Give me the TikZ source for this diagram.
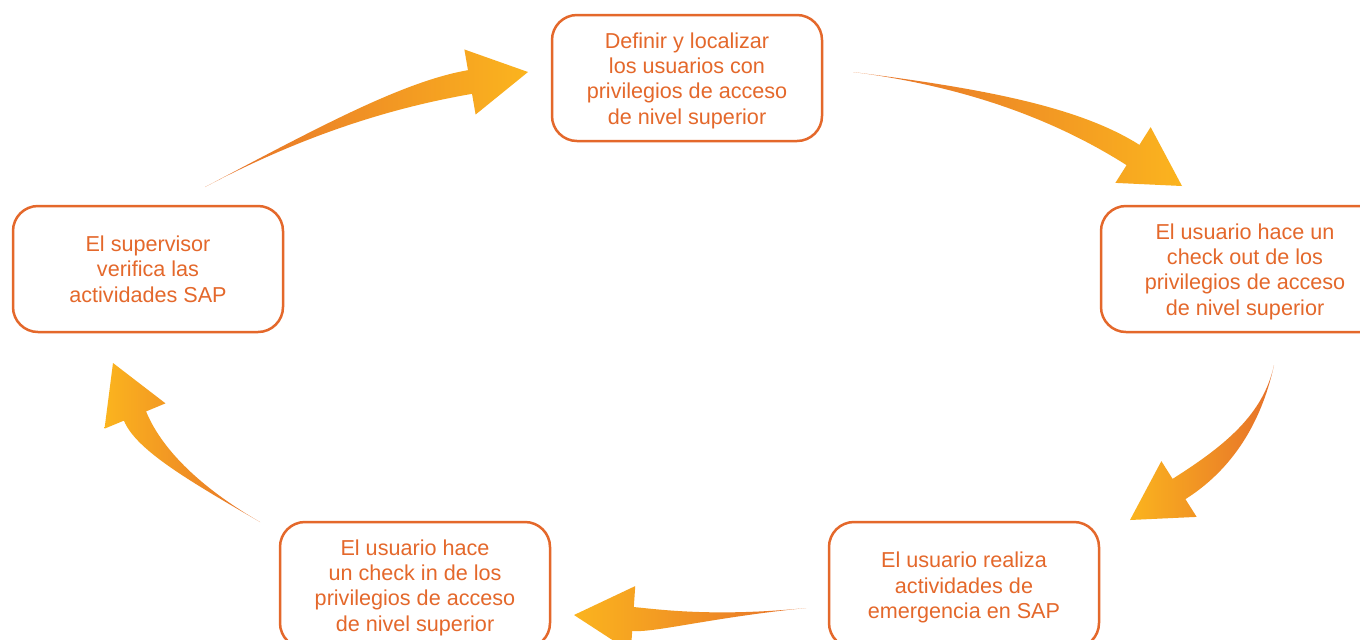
\documentclass[tikz,border=0pt]{standalone}
\usepackage{fontspec}
\setmainfont{Liberation Sans}
\usepackage{tikz}
\usetikzlibrary{calc,positioning}

\definecolor{naranja}{HTML}{E4682B}
\definecolor{flechaoscura}{HTML}{E6702A}
\definecolor{flechaclara}{HTML}{FBB41E}

% tapered curved arrow: [shading]{tail}{bend}{head base}{tip}
\newcommand{\flecha}[5][]{%
  \coordinate (c1) at ($(#2)!0.667!(#3)$);
  \coordinate (c2) at ($(#4)!0.667!(#3)$);
  \shade[#1] (#2) .. controls (c1) and ($(c2)!6pt!90:(#4)$) .. ($(#4)!6pt!90:(#5)$)
    -- ($(#4)!16.5pt!90:(#5)$) -- (#5) -- ($(#4)!16.5pt!-90:(#5)$)
    -- ($(#4)!6pt!-90:(#5)$) .. controls ($(c2)!6pt!-90:(#4)$) and (c1) .. (#2) -- cycle;}
% taller first line, so the text sits a little lower in its box
\newcommand{\primera}{\rule{0pt}{10.4pt}}

\begin{document}
\begin{tikzpicture}
    [x=0.5pt, y=-0.5pt, font=\fontsize{10.8}{12.65}\selectfont,
    % STYLES
    % The paso style is used for the five steps of the cycle
    paso/.style={rectangle, rounded corners=12.5pt, draw=naranja, line width=1.25pt, text=naranja, align=center, minimum width=135pt, minimum height=63pt, inner sep=0pt, outer sep=0pt},
    % The shadings of the arrows, yellow at the head
    haciaderecha/.style={left color=flechaoscura, right color=flechaclara},
    haciaizquierda/.style={left color=flechaclara, right color=flechaoscura}]

    \path[use as bounding box, fill=white] (0,0) rectangle (1360,639);

    % Draw steps
    \node[paso] (definir) at (687,78) {\primera Definir y localizar\\los usuarios con\\privilegios de acceso\\de nivel superior};
    \node[paso, minimum width=144pt, below right=32.5pt and 139.5pt of definir] (checkout) {\primera El usuario hace un\\check out de los\\privilegios de acceso\\de nivel superior};
    \node[paso, below left=32.5pt and 134.5pt of definir] (supervisor) {El supervisor\\verifica las\\actividades SAP};
    \node[paso, below left=95pt and 1pt of checkout] (emergencia) {\primera El usuario realiza\\actividades de\\emergencia en SAP};
    \node[paso, left=139.5pt of emergencia] (checkin) {\primera El usuario hace\\un check in de los\\privilegios de acceso\\de nivel superior};

    % Draw the arrows between steps
    \coordinate (f1cola) at (205,187); \coordinate (f1curva) at (372,99);
    \coordinate (f1base) at (470,82);  \coordinate (f1punta) at (528,72);
    \coordinate (f2cola) at (853,72);  \coordinate (f2curva) at (1040,96);
    \coordinate (f2base) at (1133,155); \coordinate (f2punta) at (1182,186);
    \coordinate (f3cola) at (1274,365); \coordinate (f3curva) at (1258,439);
    \coordinate (f3base) at (1179,489); \coordinate (f3punta) at (1130,520);
    \coordinate (f4cola) at (806,608);  \coordinate (f4curva) at (666,622);
    \coordinate (f4base) at (633,619);  \coordinate (f4punta) at (574,615);
    \coordinate (f5cola) at (260,522);  \coordinate (f5curva) at (153,460);
    \coordinate (f5base) at (135,416);  \coordinate (f5punta) at (113,363);

    \flecha[haciaderecha]{f1cola}{f1curva}{f1base}{f1punta}
    \flecha[haciaderecha]{f2cola}{f2curva}{f2base}{f2punta}
    \flecha[haciaizquierda]{f3cola}{f3curva}{f3base}{f3punta}
    \flecha[haciaizquierda]{f4cola}{f4curva}{f4base}{f4punta}
    \flecha[haciaizquierda]{f5cola}{f5curva}{f5base}{f5punta}
\end{tikzpicture}
\end{document}
